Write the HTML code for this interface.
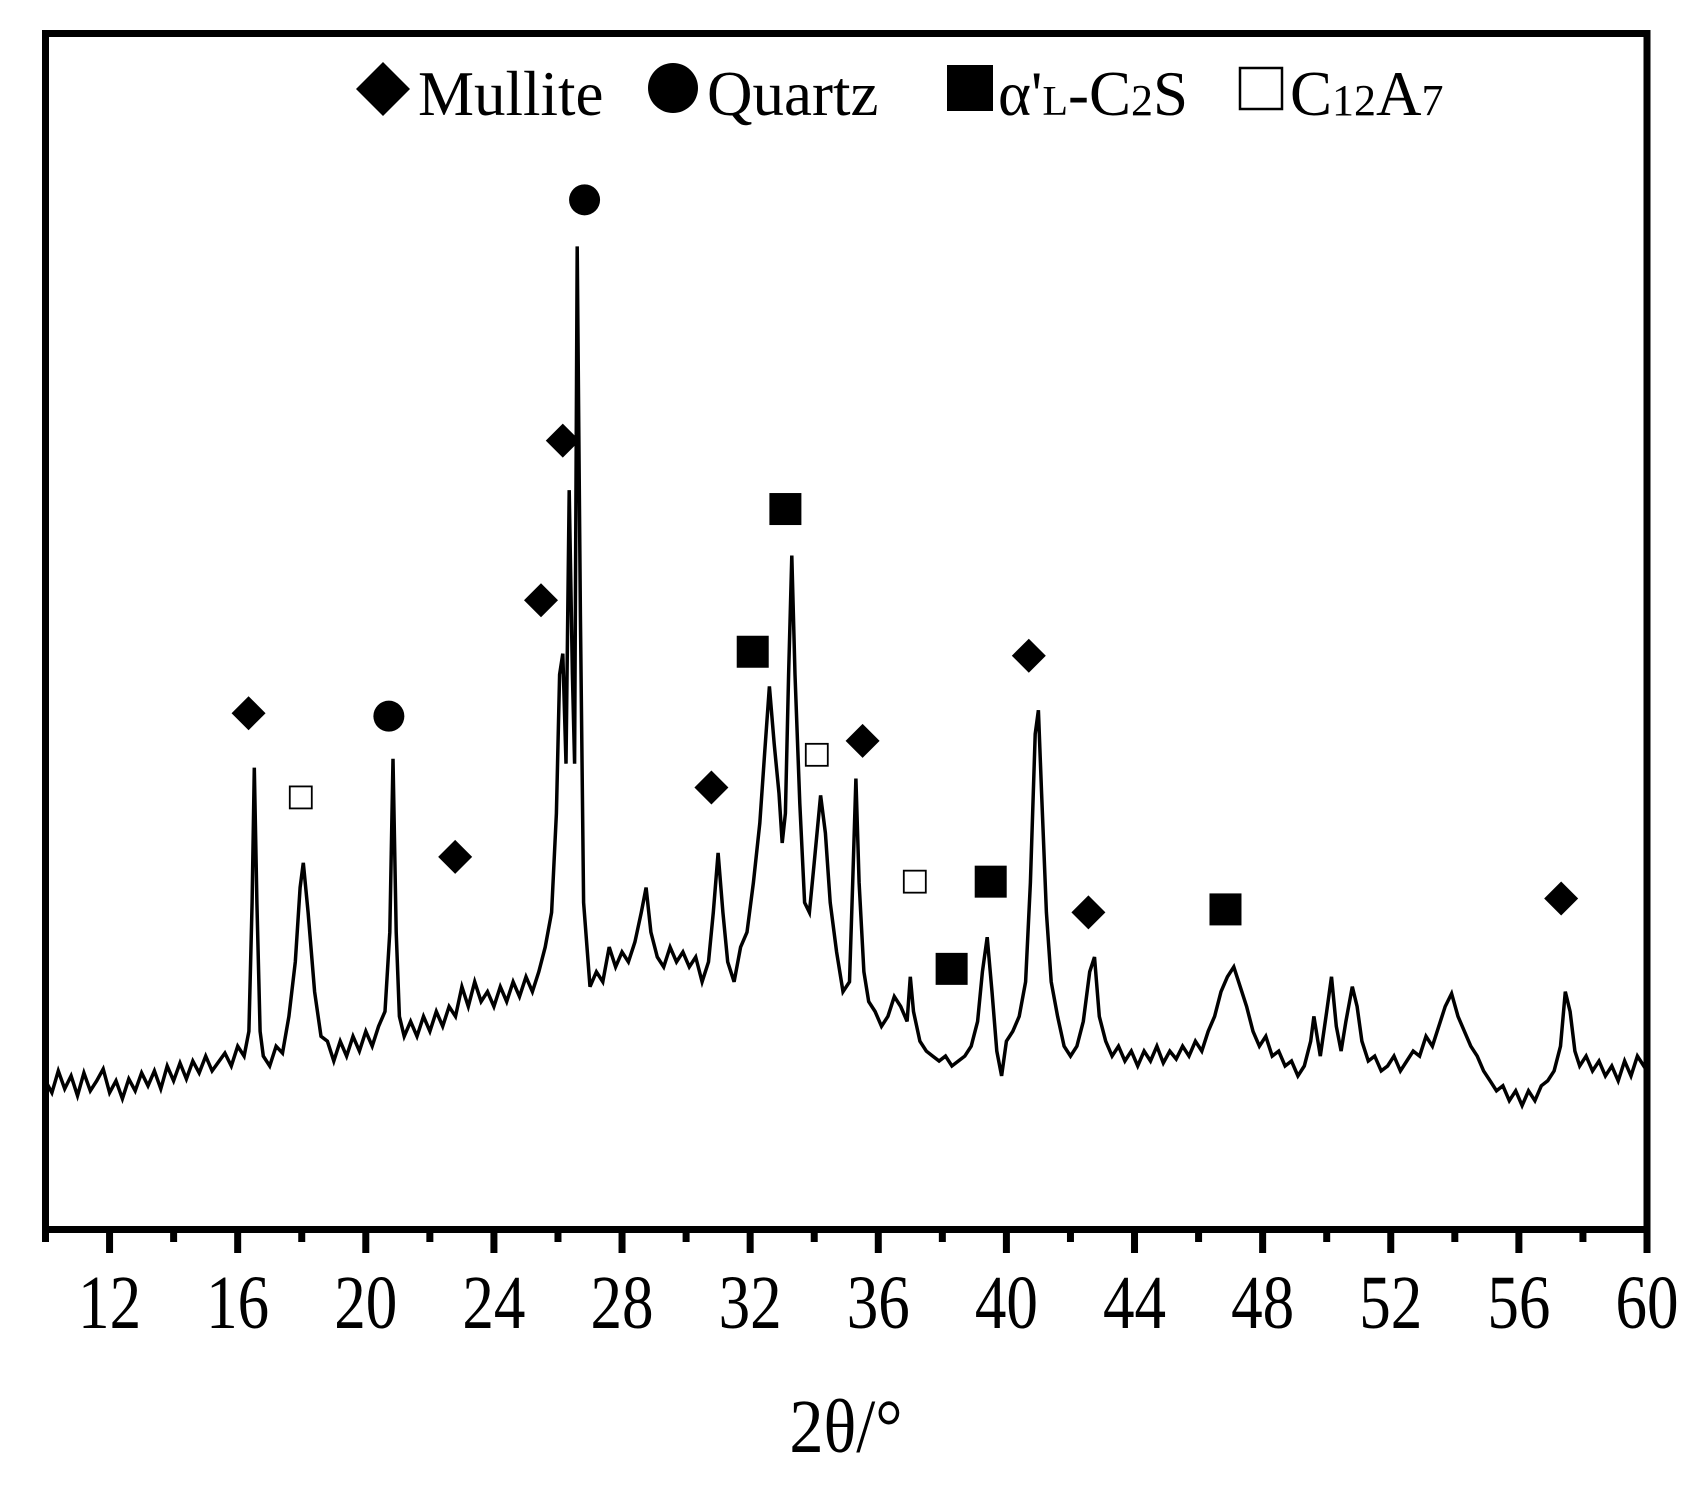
<!DOCTYPE html>
<html><head><meta charset="utf-8"><style>
html,body{margin:0;padding:0;background:#fff;}
svg{display:block;font-family:"Liberation Serif",serif;}
</style></head><body>
<svg id="chart" width="1705" height="1489" viewBox="0 0 1705 1489" xmlns="http://www.w3.org/2000/svg">
<rect x="0" y="0" width="1705" height="1489" fill="#fff"/>
<g id="plot"></g>
<rect x="45.5" y="33.5" width="1601.5" height="1196" fill="none" stroke="#000" stroke-width="7"/>
<g id="ticks"></g>
<text x="0" y="0" transform="translate(846,1452) scale(0.9,1)" font-size="76" text-anchor="middle">2θ/°</text>
<g>
  <polygon points="383,62 410,89 383,116 356,89" fill="#000"/>
  <text x="418" y="115" font-size="63">Mullite</text>
  <circle cx="673" cy="88" r="25" fill="#000"/>
  <text x="707" y="115" font-size="63">Quartz</text>
  <rect x="947" y="65" width="46" height="46" fill="#000"/>
  <text x="998" y="115" font-size="63">α'<tspan font-size="42">L</tspan>-C<tspan font-size="44">2</tspan>S</text>
  <rect x="1240" y="68" width="42" height="41" fill="#fff" stroke="#000" stroke-width="2.5"/>
  <text x="1290" y="115" font-size="63">C<tspan font-size="44">12</tspan>A<tspan font-size="44">7</tspan></text>
</g>
</svg>
<script>
const twoTheta = [10,10.2,10.4,10.6,10.8,11,11.2,11.4,11.6,11.8,12,12.2,12.4,12.6,12.8,13,13.2,13.4,13.6,13.8,14,14.2,14.4,14.6,14.8,15,15.2,15.6,15.8,16,16.2,16.35,16.45,16.52,16.6,16.7,16.8,17,17.2,17.4,17.6,17.8,17.95,18.05,18.2,18.4,18.6,18.8,19,19.2,19.4,19.6,19.8,20,20.2,20.4,20.6,20.75,20.85,20.95,21.05,21.2,21.4,21.6,21.8,22,22.2,22.4,22.6,22.8,23,23.2,23.4,23.6,23.8,24,24.2,24.4,24.6,24.8,25,25.2,25.4,25.6,25.8,25.95,26.05,26.15,26.25,26.35,26.45,26.52,26.6,26.7,26.8,27,27.2,27.4,27.6,27.8,28,28.2,28.4,28.6,28.75,28.9,29.1,29.3,29.5,29.7,29.9,30.1,30.3,30.5,30.7,30.85,31,31.15,31.3,31.5,31.7,31.9,32.1,32.3,32.45,32.6,32.75,32.9,33.0,33.1,33.2,33.3,33.4,33.55,33.7,33.85,34.0,34.2,34.35,34.5,34.7,34.9,35.1,35.2,35.3,35.4,35.55,35.7,35.9,36.1,36.3,36.5,36.7,36.9,37.0,37.1,37.3,37.5,37.7,37.9,38.1,38.3,38.5,38.7,38.9,39.1,39.25,39.4,39.55,39.7,39.85,40.0,40.2,40.4,40.6,40.75,40.9,41.0,41.1,41.25,41.4,41.6,41.8,42,42.2,42.4,42.6,42.75,42.9,43.1,43.3,43.5,43.7,43.9,44.1,44.3,44.5,44.7,44.9,45.1,45.3,45.5,45.7,45.9,46.1,46.3,46.5,46.7,46.9,47.1,47.3,47.5,47.7,47.9,48.1,48.3,48.5,48.7,48.9,49.1,49.3,49.5,49.6,49.8,50.0,50.15,50.3,50.45,50.6,50.8,50.95,51.1,51.3,51.5,51.7,51.9,52.1,52.3,52.5,52.7,52.9,53.1,53.3,53.5,53.7,53.9,54.1,54.3,54.5,54.7,54.9,55.1,55.3,55.5,55.7,55.9,56.1,56.3,56.5,56.7,56.9,57.1,57.3,57.45,57.6,57.75,57.9,58.1,58.3,58.5,58.7,58.9,59.1,59.3,59.5,59.7,59.9,60];
const intensity = [150,138,160,142,155,135,158,140,150,162,138,150,132,152,140,158,145,160,142,165,150,168,152,170,158,175,160,178,165,185,175,200,330,466,330,200,175,165,185,178,215,270,345,370,320,240,195,190,170,190,175,195,180,200,185,205,220,300,475,300,215,195,210,195,215,200,220,205,225,215,245,225,250,230,240,225,245,230,250,235,255,240,260,285,320,420,560,581,470,746,560,470,992,620,330,245,260,250,285,265,280,270,290,320,345,300,275,265,285,270,280,265,275,250,270,320,380,320,270,250,285,300,350,410,480,548,490,440,390,420,560,680,560,430,330,320,370,438,400,330,280,240,250,350,455,350,260,230,220,205,215,235,225,210,255,220,190,180,175,170,175,165,170,175,185,210,260,295,240,180,155,190,200,215,250,350,500,524,440,320,250,215,185,175,185,210,260,275,215,190,175,185,170,180,165,180,170,185,168,180,172,185,175,190,180,200,215,240,255,265,245,225,200,185,195,175,180,165,170,155,165,190,215,175,220,255,205,180,210,245,225,190,170,175,160,165,175,160,170,180,175,195,185,205,225,238,215,200,185,175,160,150,140,145,130,140,125,140,130,145,150,160,185,240,220,180,165,175,160,170,155,165,150,170,155,175,165,170];
const markerTypes = ["mullite","c12a7","quartz","mullite","mullite","mullite","quartz","c2s","c2s","mullite","c12a7","mullite","c12a7","c2s","c2s","mullite","mullite","c2s","mullite"];
const markerTheta = [16.34,17.97,20.72,22.79,25.47,26.15,26.83,33.1,32.08,30.79,34.08,35.51,37.14,39.51,38.29,40.7,42.56,46.84,57.32];
const markerHeight = [521,436,518,376,635,796,1039,727,583,446,479,493,351,351,263,579,320,323,334];
const tickLabels = ["12","16","20","24","28","32","36","40","44","48","52","56","60"];
const tickValues = [12,16,20,24,28,32,36,40,44,48,52,56,60];

const NS="http://www.w3.org/2000/svg";
const xScale = v => 45.5 + (v-10)/(60-10)*1601.5;
const yScale = v => 1229.5 - v*0.991;
const plot=document.getElementById('plot');
const ticks=document.getElementById('ticks');

let d="";
for(let i=0;i<twoTheta.length;i++){d+=(i?"L":"M")+xScale(twoTheta[i]).toFixed(1)+","+yScale(intensity[i]).toFixed(1);}
const path=document.createElementNS(NS,'path');
path.setAttribute('d',d);path.setAttribute('fill','none');path.setAttribute('stroke','#000');path.setAttribute('stroke-width','3.5');path.setAttribute('stroke-linejoin','miter');


plot.appendChild(path);

for(let i=0;i<markerTypes.length;i++){
  const cx=xScale(markerTheta[i]), cy=yScale(markerHeight[i]), t=markerTypes[i];
  let el;
  if(t==="mullite"){el=document.createElementNS(NS,'polygon');el.setAttribute('points',`${cx},${cy-17} ${cx+17},${cy} ${cx},${cy+17} ${cx-17},${cy}`);el.setAttribute('fill','#000');}
  else if(t==="quartz"){el=document.createElementNS(NS,'circle');el.setAttribute('cx',cx);el.setAttribute('cy',cy);el.setAttribute('r',15.5);el.setAttribute('fill','#000');}
  else if(t==="c2s"){el=document.createElementNS(NS,'rect');el.setAttribute('x',cx-16);el.setAttribute('y',cy-16);el.setAttribute('width',32);el.setAttribute('height',32);el.setAttribute('fill','#000');}
  else {el=document.createElementNS(NS,'rect');el.setAttribute('x',cx-11);el.setAttribute('y',cy-11);el.setAttribute('width',22);el.setAttribute('height',22);el.setAttribute('fill','#fff');el.setAttribute('stroke','#000');el.setAttribute('stroke-width','1.8');}
  
  
  plot.appendChild(el);
}

for(let v=10;v<=60;v+=2){
  const major=(v%4===0);
  const ln=document.createElementNS(NS,'line');
  const x=xScale(v);
  ln.setAttribute('x1',x);ln.setAttribute('x2',x);ln.setAttribute('y1',1229);ln.setAttribute('y2',major?1253:1242);
  ln.setAttribute('stroke','#000');ln.setAttribute('stroke-width','7');
  
  
  ticks.appendChild(ln);
}
for(let i=0;i<tickLabels.length;i++){
  const x=xScale(tickValues[i]);
  const tx=document.createElementNS(NS,'text');
  tx.setAttribute('x',0);tx.setAttribute('y',0);
  tx.setAttribute('transform',`translate(${x},1328) scale(0.83,1)`);
  tx.setAttribute('font-size','76');tx.setAttribute('text-anchor','middle');
  tx.textContent=tickLabels[i];
  
  
  ticks.appendChild(tx);
}
</script>
</body></html>
